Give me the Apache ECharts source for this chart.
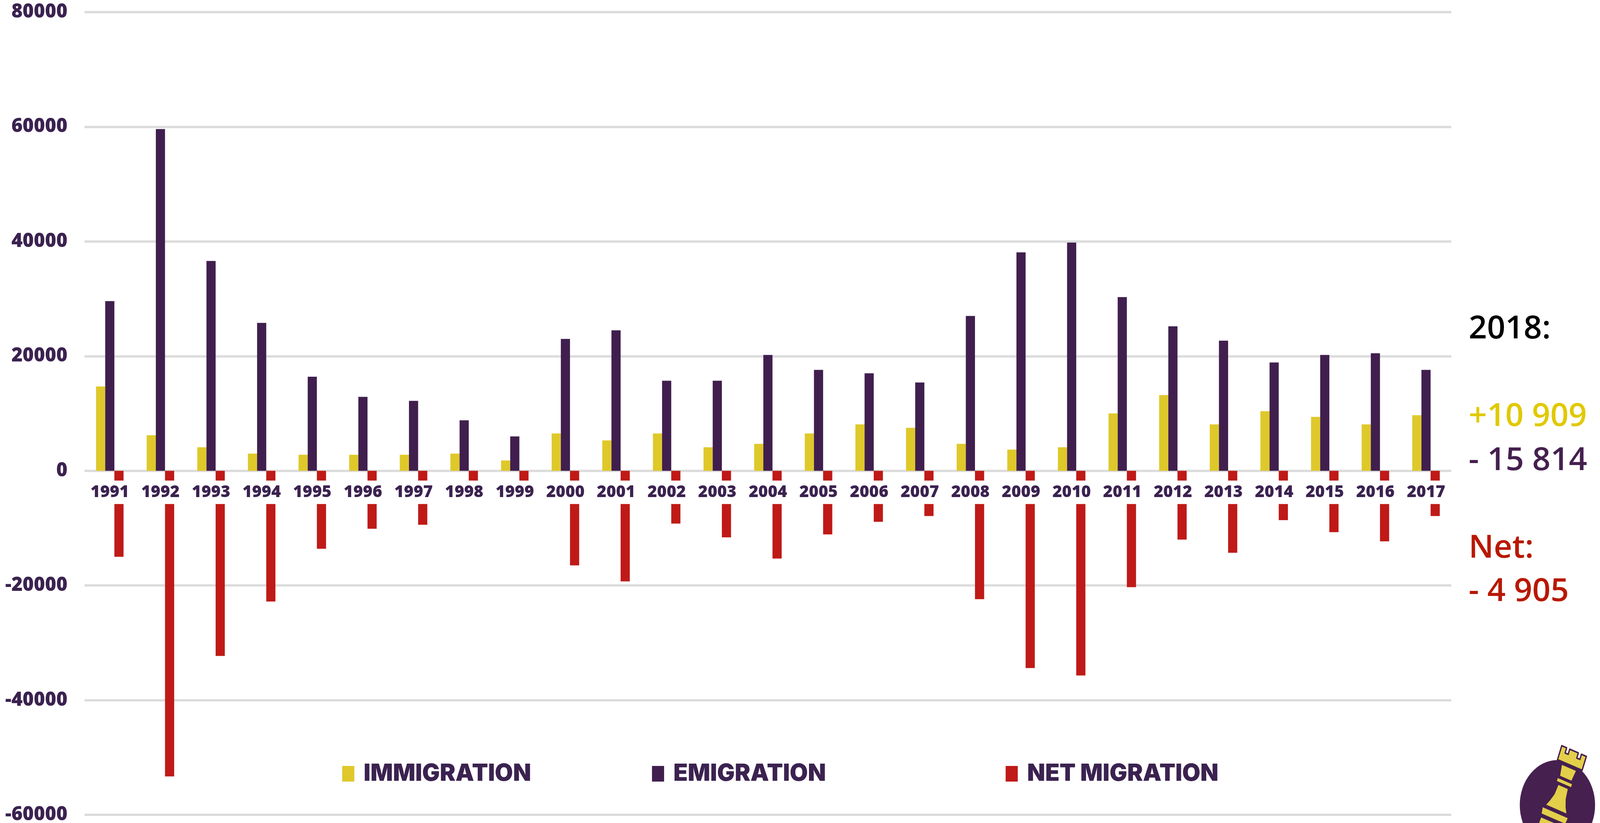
<!DOCTYPE html>
<html>
<head>
<meta charset="utf-8">
<style>html,body{margin:0;padding:0;background:#fff;overflow:hidden}#c{width:100vw;height:100vh}</style>
<script src="https://cdn.jsdelivr.net/npm/echarts@6/dist/echarts.min.js"></script>
</head>
<body>
<div id="c"></div>
<script>
const years = ['1991','1992','1993','1994','1995','1996','1997','1998','1999','2000','2001','2002','2003','2004','2005','2006','2007','2008','2009','2010','2011','2012','2013','2014','2015','2016','2017'];
const immigration = [14700,6200,4100,3000,2800,2800,2800,3000,1800,6500,5300,6500,4100,4700,6500,8100,7500,4700,3700,4100,10000,13200,8100,10400,9400,8100,9700];
const emigration = [29600,59600,36600,25800,16400,12900,12200,8800,6000,23000,24500,15700,15700,20200,17600,17000,15400,27000,38100,39800,30300,25200,22700,18900,20200,20500,17600];
const netMigration = [-15000,-53300,-32300,-22800,-13600,-10100,-9400,-5400,-4200,-16500,-19300,-9200,-11600,-15300,-11100,-8900,-7900,-22400,-34400,-35700,-20300,-12000,-14300,-8600,-10700,-12300,-7900];
const seriesNames = ['IMMIGRATION','EMIGRATION','NET MIGRATION'];
const sideTexts = ['2018:','+10 909','- 15 814','Net:','- 4 905'];
const axisMin = -60000, axisMax = 80000;

const YEL='#dfc82a', PUR='#401f4e', RED='#bf1a17', LAB='#3b2250';
const FONT='"Open Sans"';
// the real window may be narrower than 4886: keep every horizontal position proportional
const W = window.innerWidth, H = window.innerHeight;
const sx = W/4886;
const gridTop = 31, gridBottom = 21;
const zeroOffset = (H-gridTop-gridBottom)*(0-axisMin)/(axisMax-axisMin);
const chart = echarts.init(document.getElementById('c'), null, {renderer:'canvas', width:W, height:H, devicePixelRatio:1});

const legendAt = (name,left)=>({
  data:[name], left:left*sx, top:1940, padding:0, orient:'horizontal', icon:'rect', itemWidth:37*sx, itemHeight:40, itemGap:29*sx, selectedMode:false,
  textStyle:{color:LAB,fontFamily:'Inter',fontWeight:900,fontSize:60,lineHeight:80,padding:[0,0,0,19]}
});
const bar = (name,data,color)=>({name,type:'bar',data,barWidth:28*sx,barGap:'0%',itemStyle:{color},z:2});
const side = (text,y,color)=>({type:'text',x:4485*sx,y,z:10,style:{text,fill:color,fontFamily:FONT,fontWeight:600,fontSize:82,verticalAlign:'middle'}});
const poly = (points,fill)=>({type:'polygon',z:12,shape:{points},style:{fill:fill||'#e3cf49',stroke:'#46204f',lineWidth:4,lineJoin:'round'}});

chart.setOption({
  animation:false,
  backgroundColor:'#fff',
  grid:{left:258*sx,right:454*sx,top:gridTop,bottom:gridBottom,outerBoundsMode:'none'},
  legend:[legendAt(seriesNames[0],1045),legendAt(seriesNames[1],1991),legendAt(seriesNames[2],3071)],
  xAxis:{type:'category',data:years,z:5,position:'bottom',offset:-zeroOffset,axisLine:{show:false,onZero:false},axisTick:{show:false},splitLine:{show:false},
    axisLabel:{interval:0,margin:25,color:LAB,fontFamily:FONT,fontWeight:800,fontSize:42,lineHeight:60,backgroundColor:'#fff',padding:[0,7]}},
  yAxis:{type:'value',min:axisMin,max:axisMax,interval:20000,axisLine:{show:false},axisTick:{show:false},
    splitLine:{lineStyle:{color:'#dcdcdc',width:6}},
    axisLabel:{margin:52*sx,color:LAB,fontFamily:FONT,fontWeight:800,fontSize:49,formatter:v=>String(v)}},
  series:[bar(seriesNames[0],immigration,YEL),bar(seriesNames[1],emigration,PUR),bar(seriesNames[2],netMigration,RED)],
  graphic:[
    side(sideTexts[0],843,'#000000'),
    side(sideTexts[1],1067,'#e0c900'),
    side(sideTexts[2],1180,'#45204f'),
    side(sideTexts[3],1404,'#b81800'),
    side(sideTexts[4],1515,'#b81800'),
    {type:'group',scaleX:sx,z:10,children:[
      {type:'circle',z:10,shape:{cx:4756,cy:2060,r:115},style:{fill:'#46204f'}},
      {type:'group',x:4802,y:1935,rotation:-20*Math.PI/180,children:[
        poly([[-40,-14],[-24,-14],[-24,0],[-14,0],[-14,-14],[14,-14],[14,0],[24,0],[24,-14],[40,-14],[40,24],[-40,24]]),
        poly([[-25,30],[25,30],[20,62],[-20,62]]),
        poly([[-25,66],[25,66],[25,78],[-25,78]]),
        poly([[-17,82],[17,82],[20,110],[27,130],[36,146],[-36,146],[-28,130],[-20,110]]),
        poly([[-43,152],[43,152],[40,172],[-40,172]]),
        poly([[-38,178],[38,178],[42,230],[-42,230]])
      ]}
    ]}
  ]
});
</script>
</body>
</html>
